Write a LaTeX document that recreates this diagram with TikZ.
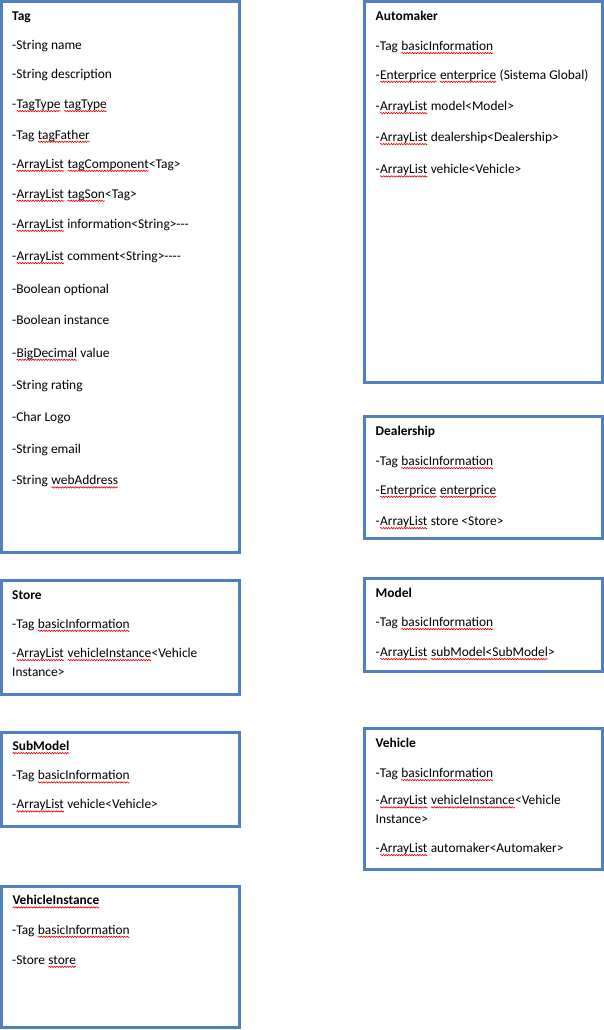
\documentclass[tikz,border=0pt]{standalone}
\usepackage{fontspec}
\setmainfont{Carlito}
\usetikzlibrary{decorations.pathmorphing}
\definecolor{boxblue}{RGB}{79,129,189}
\definecolor{squig}{RGB}{230,0,0}
\newcommand\sq[1]{\tikz[baseline=(w.base)]{\node[inner sep=0pt,outer sep=0pt] (w) {#1};
  \draw[squig,line width=.6pt,decorate,decoration={snake,amplitude=.7pt,segment length=2.6pt}]
    ([yshift=-2.6pt]w.base west) -- ([yshift=-2.6pt]w.base east);}}
\tikzset{cls/.style={draw=boxblue,line width=3pt},
  attr/.style={anchor=base west,inner sep=0pt,yshift=-1.5pt}}
\begin{document}
\begin{tikzpicture}[x=1pt,y=-1pt,font=\fontsize{13.4}{15}\selectfont]
\useasboundingbox (0,0) rectangle (604,1030);
% Tag
\draw[cls] (1.5,1.5) rectangle (239,552);
\foreach \y/\t [count=\i] in {19.3/\textbf{Tag},48.5/-String name,77.5/-String description,
  107/-\sq{TagType} \sq{tagType},137.7/-Tag \sq{tagFather},
  166.7/-\sq{ArrayList} \sq{tagComponent}<Tag>,196.7/-\sq{ArrayList} \sq{tagSon}<Tag>,
  226.7/-\sq{ArrayList} information<String>-{}-{}-,259/-\sq{ArrayList} comment<String>-{}-{}-{}-,
  291.7/-Boolean optional,323.3/-Boolean instance,355.7/-\sq{BigDecimal} value,
  387.7/-String rating,419.7/-Char Logo,451.7/-String email,483.3/-String \sq{webAddress}}
  \node[attr] (tag\i) at (12,\y) {\t};
% Automaker
\draw[cls] (364,1.5) rectangle (602,382);
\foreach \y/\t [count=\i] in {19/\textbf{Automaker},49/-Tag \sq{basicInformation},
  77.7/-\sq{Enterprice} \sq{enterprice} (Sistema Global),109/-\sq{ArrayList} model<Model>,
  140/-\sq{ArrayList} dealership<Dealership>,172.3/-\sq{ArrayList} vehicle<Vehicle>}
  \node[attr] (automaker\i) at (375.5,\y) {\t};
% Dealership
\draw[cls] (364,416.5) rectangle (602,538.5);
\foreach \y/\t [count=\i] in {434/\textbf{Dealership},464/-Tag \sq{basicInformation},
  492.7/-\sq{Enterprice} \sq{enterprice},524/-\sq{ArrayList} store <Store>}
  \node[attr] (dealership\i) at (375.5,\y) {\t};
% Model
\draw[cls] (364,578.5) rectangle (602,671.5);
\foreach \y/\t [count=\i] in {595.7/\textbf{Model},625/-Tag \sq{basicInformation},
  655/-\sq{ArrayList} \sq{subModel<SubModel}>}
  \node[attr] (model\i) at (375.5,\y) {\t};
% Vehicle
\draw[cls] (364,728.5) rectangle (602,869.5);
\foreach \y/\t [count=\i] in {746/\textbf{Vehicle},776/-Tag \sq{basicInformation},
  803.3/-\sq{ArrayList} \sq{vehicleInstance}<Vehicle,821.7/Instance>,
  851/-\sq{ArrayList} automaker<Automaker>}
  \node[attr] (vehicle\i) at (375.5,\y) {\t};
% Store
\draw[cls] (1.5,580.5) rectangle (239,694.5);
\foreach \y/\t [count=\i] in {597.7/\textbf{Store},626.7/-Tag \sq{basicInformation},
  656/-\sq{ArrayList} \sq{vehicleInstance}<Vehicle,675/Instance>}
  \node[attr] (store\i) at (12,\y) {\t};
% SubModel
\draw[cls] (1.5,732) rectangle (239,826.5);
\foreach \y/\t [count=\i] in {749/\textbf{\sq{SubModel}},778.3/-Tag \sq{basicInformation},
  807.3/-\sq{ArrayList} vehicle<Vehicle>}
  \node[attr] (submodel\i) at (12,\y) {\t};
% VehicleInstance
\draw[cls] (1.5,886.5) rectangle (239,1027.5);
\foreach \y/\t [count=\i] in {903.3/\textbf{\sq{VehicleInstance}},932.7/-Tag \sq{basicInformation},
  962.7/-Store \sq{store}}
  \node[attr] (instance\i) at (12,\y) {\t};
\end{tikzpicture}
\end{document}
